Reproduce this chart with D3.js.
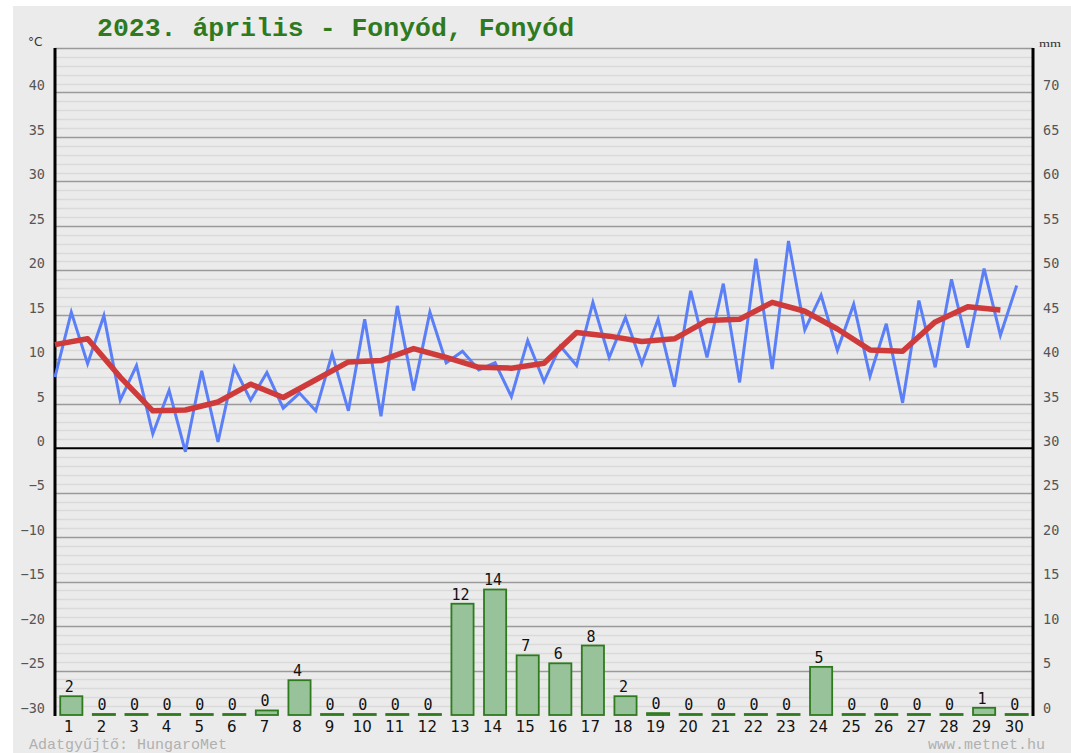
<!DOCTYPE html>
<html>
<head>
<meta charset="utf-8">
<script src="https://cdn.jsdelivr.net/npm/d3@7"></script>
<style>
html,body{margin:0;padding:0;background:#fff;}
svg{display:block;}
</style>
</head>
<body>
<svg id="chart" width="1071" height="753"></svg>
<script>
// ---- data ----
const titleText = "2023. április - Fonyód, Fonyód";
const days = d3.range(1, 31);
// blue line: alternating min / max temperatures, two points per day (°C)
const tempMinMax = [8.0,15.3,9.5,14.9,5.4,9.3,1.6,6.5,-0.4,8.7,0.7,9.1,5.4,8.5,4.5,6.2,4.2,10.6,4.2,14.5,
  3.6,16.0,6.5,15.3,9.6,10.9,8.8,9.6,5.8,12.1,7.5,11.5,9.3,16.4,10.2,14.7,9.5,14.5,6.9,17.7,
  10.2,18.5,7.4,21.3,8.9,23.3,13.3,17.2,11.0,16.2,8.1,14.0,5.1,16.6,9.1,19.0,11.3,20.2,12.7,18.3];
// red line: daily mean temperature (°C)
const tempMean = [11.65,12.3,8.0,4.2,4.3,5.2,7.2,5.7,7.7,9.7,9.85,11.2,10.2,9.1,9.0,9.55,13.0,12.6,12.0,12.3,
  14.35,14.5,16.4,15.4,13.4,11.05,10.9,14.2,15.9,15.55];
// daily precipitation (mm)
const precip = [2.0,0,0,0,0,0,0.4,3.8,0,0,0,0,12.4,14.0,6.6,5.7,7.7,2.0,0.1,0,0,0,0,5.3,0,0,0,0,0.7,0];
const tempTicks = [-30,-25,-20,-15,-10,-5,0,5,10,15,20,25,30,35,40];
const mmTicks = [0,5,10,15,20,25,30,35,40,45,50,55,60,65,70];
const leftUnit = "°C", rightUnit = "mm";
const footerLeft = "Adatgyűjtő: HungaroMet", footerRight = "www.metnet.hu";

// ---- layout ----
const svg = d3.select("#chart");
const L = 55, R = 1033, T = 48, B = 715;
const x = d3.scaleLinear().domain([0, 30]).range([L, R]);
const y = d3.scaleLinear().domain([-30, 45]).range([B, T]);
const yMm = d3.scaleLinear().domain([0, 75]).range([B, T]);

svg.append("rect").attr("x", 13).attr("y", 6).attr("width", 1071 - 13).attr("height", 753 - 6).attr("fill", "#ebebeb");

// minor grid
svg.append("g").selectAll("line").data(d3.range(-29, 45).filter(v => v % 5 !== 0))
  .join("line").attr("x1", L).attr("x2", R)
  .attr("y1", d => Math.round(y(d)) + 0.5).attr("y2", d => Math.round(y(d)) + 0.5)
  .attr("stroke", "#dadada").attr("stroke-width", 1.5);
// major grid
svg.append("g").selectAll("line").data(d3.range(-25, 46, 5).filter(v => v !== 0))
  .join("line").attr("x1", L).attr("x2", R)
  .attr("y1", d => Math.round(y(d)) + 0.5).attr("y2", d => Math.round(y(d)) + 0.5)
  .attr("stroke", "#9a9a9a").attr("stroke-width", 1.5);
// zero line
svg.append("line").attr("x1", L).attr("x2", R).attr("y1", y(0)).attr("y2", y(0))
  .attr("stroke", "#000").attr("stroke-width", 2);

// left axis
const leftAxis = d3.axisLeft(y).tickValues(tempTicks).tickSize(0).tickPadding(10).tickFormat(d => d < 0 ? "−" + Math.abs(d) : d);
const gl = svg.append("g").attr("transform", `translate(${L},0)`).call(leftAxis);
gl.select(".domain").remove();
gl.selectAll("text").attr("font-family", "DejaVu Sans Mono").attr("font-size", 13.5).attr("fill", "#555").attr("dy", "-0.2em");
// right axis
const rightAxis = d3.axisRight(yMm).tickValues(mmTicks).tickSize(0).tickPadding(10);
const gr = svg.append("g").attr("transform", `translate(${R},0)`).call(rightAxis);
gr.select(".domain").remove();
gr.selectAll("text").attr("font-family", "DejaVu Sans Mono").attr("font-size", 13.5).attr("fill", "#555").attr("dy", "-0.2em");

// axis lines
svg.append("line").attr("x1", L).attr("x2", L).attr("y1", T).attr("y2", B + 1).attr("stroke", "#000").attr("stroke-width", 3);
svg.append("line").attr("x1", R).attr("x2", R).attr("y1", T).attr("y2", B + 1).attr("stroke", "#000").attr("stroke-width", 3);

// bars
const bandW = x(1) - x(0);
const barW = bandW * 0.68;
svg.append("g").selectAll("rect").data(days)
  .join("rect")
  .attr("x", d => x(d - 0.5) - barW / 2)
  .attr("width", barW)
  .attr("y", (d, i) => yMm(precip[i]) - 1)
  .attr("height", (d, i) => Math.max(B - yMm(precip[i]), 0) + 1)
  .attr("fill", "#98c29a").attr("stroke", "#2f7a1f").attr("stroke-width", 1.8);
// bar value labels
svg.append("g").selectAll("text").data(days)
  .join("text")
  .attr("x", d => x(d - 0.5) - 2)
  .attr("y", (d, i) => yMm(precip[i]) - 5)
  .attr("text-anchor", "middle")
  .attr("font-family", "DejaVu Sans Mono").attr("font-size", 15).attr("fill", "#111")
  .text((d, i) => Math.round(precip[i]));

// x axis day labels
const xAxis = d3.axisBottom(x).tickValues(days.map(d => d - 0.5)).tickSize(0).tickPadding(6)
  .tickFormat(d => d + 0.5);
const gx = svg.append("g").attr("transform", `translate(-3,${B})`).call(xAxis);
gx.select(".domain").remove();
gx.selectAll("text").attr("font-family", "DejaVu Sans").attr("font-size", 15).attr("fill", "#111");

// blue min/max line
const blue = d3.line().x((d, i) => x(i / 2)).y(d => y(d));
svg.append("path").datum(tempMinMax).attr("d", blue)
  .attr("fill", "none").attr("stroke", "#5b7ff7").attr("stroke-width", 3).attr("stroke-linejoin", "miter");
// red mean line
const red = d3.line().x((d, i) => x(i)).y(d => y(d));
svg.append("path").datum(tempMean).attr("d", red)
  .attr("fill", "none").attr("stroke", "#cf3a3a").attr("stroke-width", 5.5).attr("stroke-linejoin", "round");

// title & units
svg.append("text").attr("x", 97).attr("y", 36).text(titleText)
  .attr("font-family", "Liberation Mono").attr("font-weight", "bold").attr("font-size", 26.5).attr("fill", "#2f7a1f");
svg.append("text").attr("x", 28).attr("y", 46).text(leftUnit)
  .attr("font-family", "DejaVu Sans").attr("font-size", 12).attr("fill", "#333");
svg.append("text").attr("x", 1039).attr("y", 47).text(rightUnit)
  .attr("font-family", "Liberation Serif").attr("font-size", 11).attr("fill", "#333").attr("textLength", 22).attr("lengthAdjust", "spacingAndGlyphs");

// footer
svg.append("text").attr("x", 29).attr("y", 749).text(footerLeft)
  .attr("font-family", "Liberation Mono").attr("font-size", 15).attr("fill", "#b0b0b0");
svg.append("text").attr("x", 1045).attr("y", 749).attr("text-anchor", "end").text(footerRight)
  .attr("font-family", "Liberation Mono").attr("font-size", 15).attr("fill", "#b0b0b0");
</script>
</body>
</html>
